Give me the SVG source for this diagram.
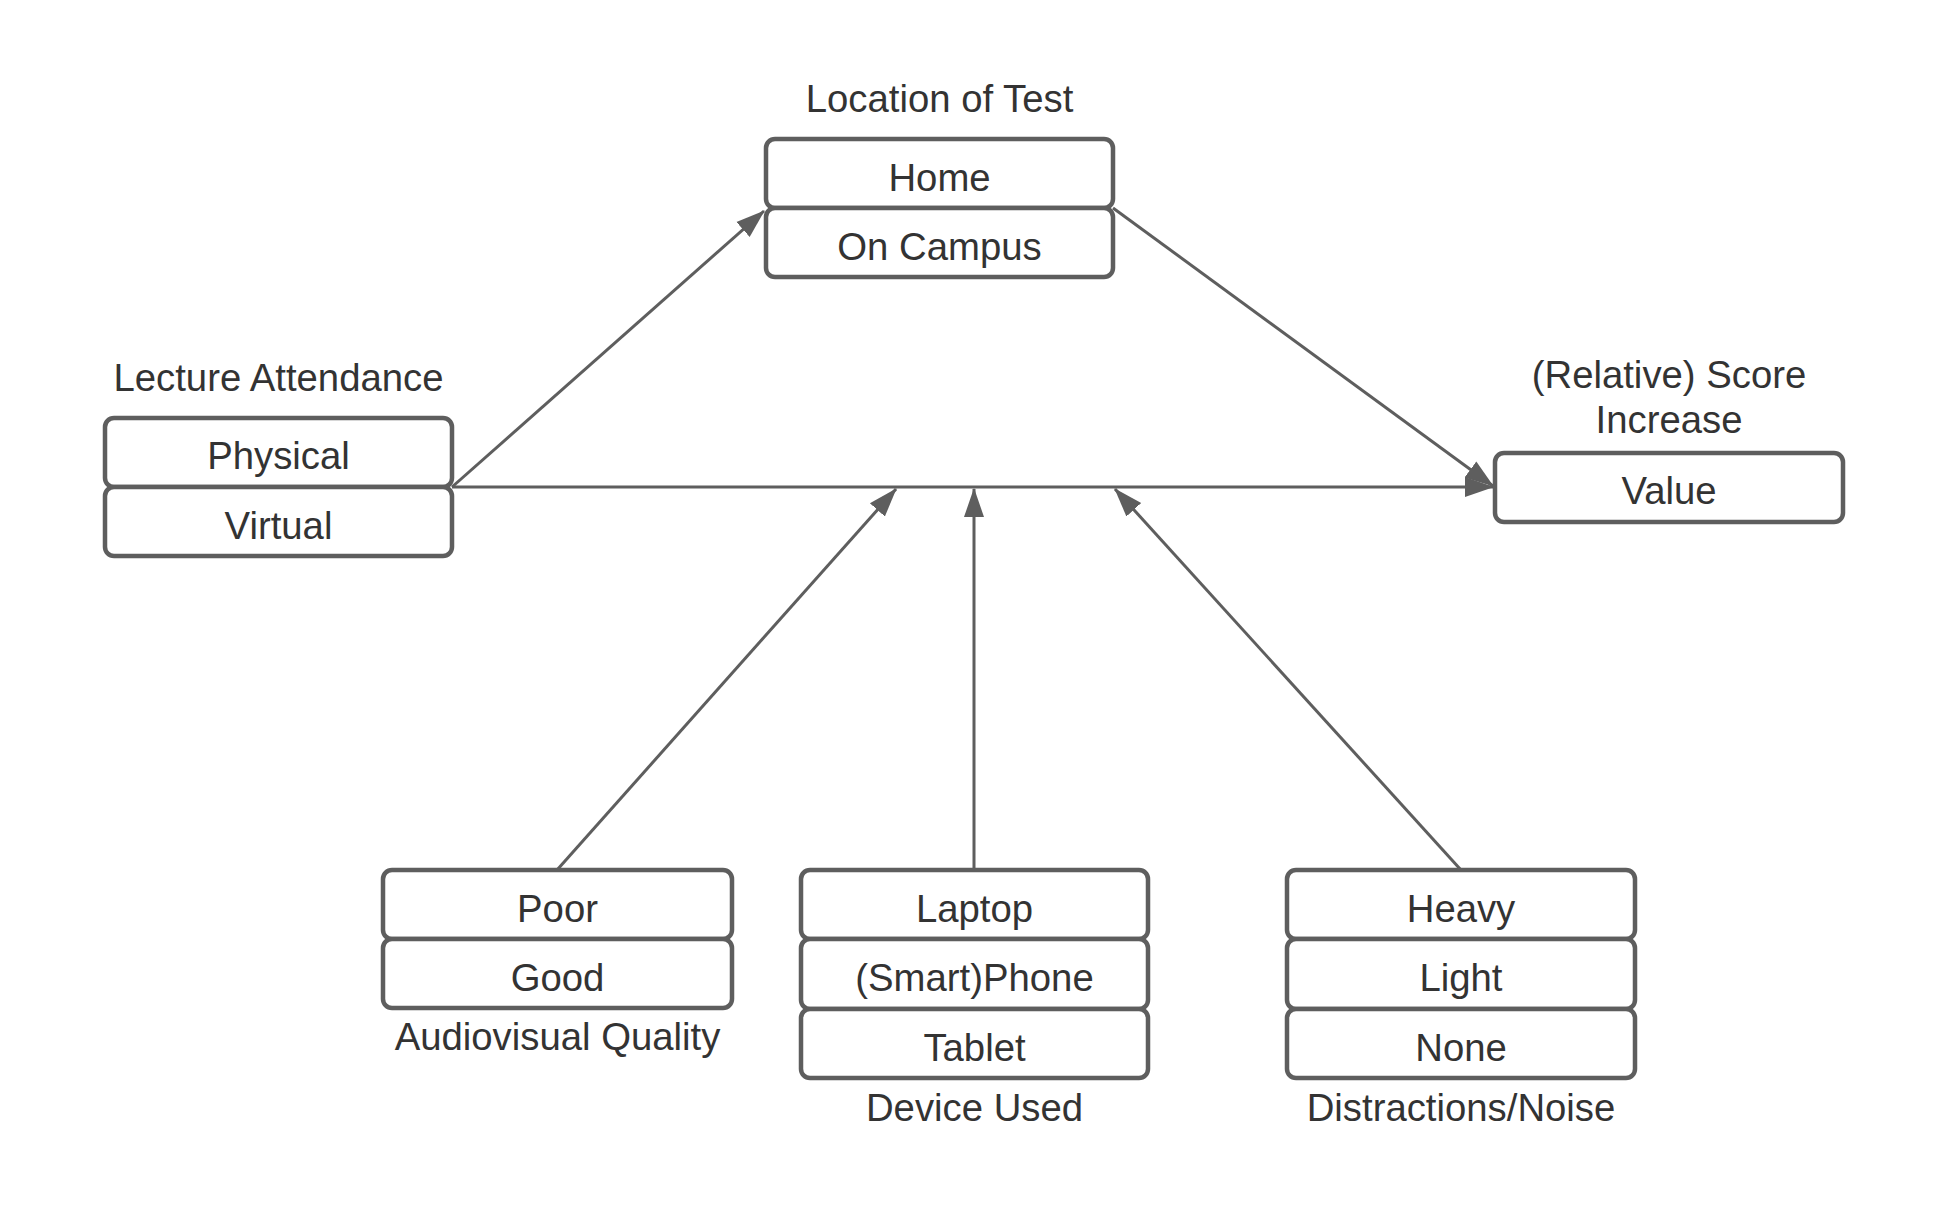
<svg xmlns="http://www.w3.org/2000/svg" width="1948" height="1217" viewBox="0 0 1948 1217">
<style>
.box{fill:#ffffff;stroke:#5e5e5e;stroke-width:4.5}
.t{font-family:"Liberation Sans",Arial,sans-serif;font-size:38.3px;fill:#333333;text-anchor:middle}
.c{fill:none;stroke:#5e5e5e;stroke-width:3}
</style>
<defs>
<marker id="ah" markerUnits="userSpaceOnUse" markerWidth="30" markerHeight="22" viewBox="0 0 30 22" refX="28" refY="11" orient="auto">
<path d="M0,1 L29,11 L0,21 z" fill="#5e5e5e"/>
</marker>
</defs>
<rect width="1948" height="1217" fill="#ffffff"/>
<g id="connectors">
<line class="c" x1="452" y1="487" x2="764" y2="211" marker-end="url(#ah)"/>
<line class="c" x1="1113" y1="208" x2="1493" y2="486" marker-end="url(#ah)"/>
<line class="c" x1="452" y1="487" x2="1493" y2="487" marker-end="url(#ah)"/>
<line class="c" x1="557" y1="870" x2="896" y2="489" marker-end="url(#ah)"/>
<line class="c" x1="974" y1="870" x2="974" y2="489" marker-end="url(#ah)"/>
<line class="c" x1="1461" y1="870" x2="1115" y2="489" marker-end="url(#ah)"/>
</g>
<g id="location">
<text class="t" x="939.5" y="112">Location of Test</text>
<rect class="box" x="766" y="139" width="347" height="69" rx="9"/>
<text class="t" x="939.5" y="191">Home</text>
<rect class="box" x="766" y="208" width="347" height="69" rx="9"/>
<text class="t" x="939.5" y="260">On Campus</text>
</g>
<g id="lecture">
<text class="t" x="278.5" y="391">Lecture Attendance</text>
<rect class="box" x="105" y="418" width="347" height="69" rx="9"/>
<text class="t" x="278.5" y="469">Physical</text>
<rect class="box" x="105" y="487" width="347" height="69" rx="9"/>
<text class="t" x="278.5" y="539">Virtual</text>
</g>
<g id="score">
<text class="t" x="1669" y="388">(Relative) Score</text>
<text class="t" x="1669" y="433">Increase</text>
<rect class="box" x="1495" y="453" width="348" height="69" rx="9"/>
<text class="t" x="1669" y="504">Value</text>
</g>
<g id="audiovisual">
<rect class="box" x="383" y="870" width="349" height="69" rx="9"/>
<text class="t" x="557.5" y="922">Poor</text>
<rect class="box" x="383" y="939" width="349" height="69" rx="9"/>
<text class="t" x="557.5" y="991">Good</text>
<text class="t" x="557.5" y="1050">Audiovisual Quality</text>
</g>
<g id="device">
<rect class="box" x="801" y="870" width="347" height="69" rx="9"/>
<text class="t" x="974.5" y="922">Laptop</text>
<rect class="box" x="801" y="939" width="347" height="70" rx="9"/>
<text class="t" x="974.5" y="991">(Smart)Phone</text>
<rect class="box" x="801" y="1009" width="347" height="69" rx="9"/>
<text class="t" x="974.5" y="1061">Tablet</text>
<text class="t" x="974.5" y="1121">Device Used</text>
</g>
<g id="distractions">
<rect class="box" x="1287" y="870" width="348" height="69" rx="9"/>
<text class="t" x="1461" y="922">Heavy</text>
<rect class="box" x="1287" y="939" width="348" height="70" rx="9"/>
<text class="t" x="1461" y="991">Light</text>
<rect class="box" x="1287" y="1009" width="348" height="69" rx="9"/>
<text class="t" x="1461" y="1061">None</text>
<text class="t" x="1461" y="1121">Distractions/Noise</text>
</g>
</svg>
